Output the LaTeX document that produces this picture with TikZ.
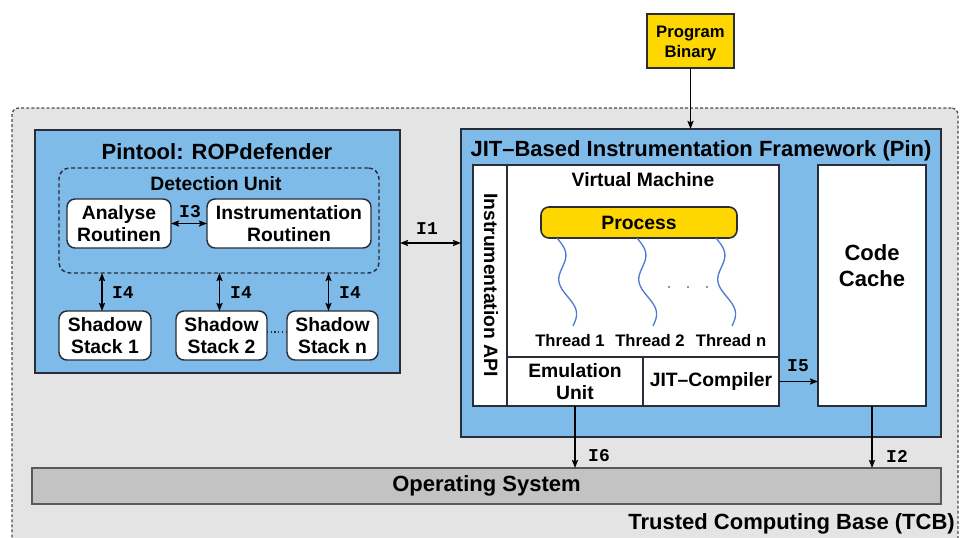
\documentclass[tikz,border=0pt]{standalone}
\usepackage{fontspec}
\setmainfont{Liberation Sans}
\setmonofont{Liberation Mono}
\usetikzlibrary{arrows.meta,fit}
\definecolor{pblue}{RGB}{127,187,233}
\definecolor{tcbgray}{RGB}{228,228,228}
\definecolor{osgray}{RGB}{195,195,195}
\definecolor{pyellow}{RGB}{255,215,0}
\definecolor{edge}{RGB}{40,45,55}
\definecolor{thread}{RGB}{80,125,205}
\tikzset{
  fitbox/.style={inner sep=0pt, outer sep=0pt},
  bluebox/.style={fitbox, draw=edge, line width=1.4pt, fill=pblue},
  whitebox/.style={fitbox, draw=edge, line width=1.1pt, fill=white},
  roundbox/.style={whitebox, rounded corners=6pt},
  txt/.style={inner sep=0pt, align=center},
  ilabel/.style={font=\ttfamily\bfseries\fontsize{13.5}{14}\selectfont, inner sep=0pt},
  conn/.style={line width=1.2pt, draw=black},
  bi/.style={conn, {Stealth[length=6pt,width=4.5pt,inset=1pt]}-{Stealth[length=6pt,width=4.5pt,inset=1pt]}},
  uni/.style={conn, -{Stealth[length=6pt,width=4.5pt,inset=1pt]}},
  bigtxt/.style={txt, font=\bfseries\fontsize{16.5}{19.5}\selectfont},
  midtxt/.style={txt, font=\bfseries\fontsize{14.5}{16.5}\selectfont},
  smltxt/.style={txt, font=\bfseries\fontsize{12.5}{15}\selectfont},
  threadline/.style={draw=thread, line width=1pt},
}
\begin{document}
\begin{tikzpicture}[x=0.75pt,y=-0.75pt]
\useasboundingbox (0,0) rectangle (960,537);
% Trusted computing base
\node[fitbox, fit={(12,108) (958,548)}, fill=tcbgray, draw=black!70, line width=1pt,
  dash pattern=on 2.2pt off 1.6pt, rounded corners=5pt] (tcb) {};
\node[bigtxt, anchor=east] (tcbl) at (955,524) {Trusted Computing Base (TCB)};

% Program binary
\node[fitbox, fit={(647,14) (734,68)}, fill=pyellow, draw=edge, line width=1.2pt] (prog) {};
\node[smltxt] (progl) at ([yshift=-2]prog.center) {Program\\Binary};

% Pintool
\node[bluebox, fit={(35,130) (400,373)}] (pin) {};
\node[bigtxt] (pinl) at (217,152) {Pintool: ROPdefender};
\node[fitbox, fit={(59,168) (379,273)}, draw=edge, line width=1.1pt, dash pattern=on 3pt off 2pt, rounded corners=8pt] (det) {};
\node[midtxt] (detl) at (216,184) {Detection Unit};
\node[roundbox, fit={(67,199) (171,248)}] (ana) {};
\node[midtxt] (anal) at (ana.center) {Analyse\\Routinen};
\node[roundbox, fit={(207,199) (371,248)}] (ins) {};
\node[midtxt] (insl) at (ins.center) {Instrumentation\\Routinen};
\node[roundbox, fit={(59,311) (151,360)}] (ss1) {};
\node[midtxt] (ss1l) at (ss1.center) {Shadow\\Stack 1};
\node[roundbox, fit={(176,311) (267,360)}] (ss2) {};
\node[midtxt] (ss2l) at (ss2.center) {Shadow\\Stack 2};
\node[roundbox, fit={(287,311) (378,360)}] (ssn) {};
\node[midtxt] (ssnl) at (ssn.center) {Shadow\\Stack n};
\draw[edge, line width=0.8pt, dotted] (ss2.east |- 0,332) -- (ssn.west |- 0,332);

\draw[bi] (ana.east) -- (ins.west);
\node[ilabel] (i3) at (190,212) {I3};
\draw[bi] (det.south -| ss1.north) ++(-3,0) coordinate (d1) -- (ss1.north -| d1);
\draw[bi] (det.south -| ss2.north) ++(-2,0) coordinate (d2) -- (ss2.north -| d2);
\draw[bi] (det.south -| ssn.north) ++(-4,0) coordinate (d3) -- (ssn.north -| d3);
\node[ilabel] (i4a) at (123,293) {I4};
\node[ilabel] (i4b) at (241,293) {I4};
\node[ilabel] (i4c) at (350,293) {I4};

% JIT framework
\node[bluebox, fit={(461,129) (941,437)}] (jit) {};
\node[bigtxt] (jitl) at (701,151) {JIT–Based Instrumentation Framework (Pin)};
\node[whitebox, fit={(473,165) (507,406)}] (api) {};
\node[midtxt, rotate=-90] (apil) at (491,285) {Instrumentation API};
\node[whitebox, fit={(507,165) (779,357)}] (vm) {};
\node[midtxt] (vml) at (643,180) {Virtual Machine};
\node[whitebox, fit={(507,357) (643,406)}] (emu) {};
\node[midtxt] (emul) at (emu.center) {Emulation\\Unit};
\node[whitebox, fit={(643,357) (779,406)}] (jitc) {};
\node[midtxt] (jitcl) at (jitc.center) {JIT–Compiler};
\node[whitebox, fit={(818,165) (926,406)}] (cache) {};
\node[bigtxt] (cachel) at (872,266) {Code\\Cache};
\node[fitbox, fit={(541,207) (737,238)}, fill=pyellow, draw=edge, line width=1.2pt, rounded corners=6pt] (proc) {};
\node[midtxt] (procl) at (proc.center) {Process};

% threads
\draw[threadline] plot[domain=0:1, samples=60, variable=\t] ({557+16*\t+6*sin(540*\t)}, {238+88*\t});
\draw[threadline] plot[domain=0:1, samples=60, variable=\t] ({637+16*\t+6*sin(540*\t)}, {238+88*\t});
\draw[threadline] plot[domain=0:1, samples=60, variable=\t] ({716+16*\t+6*sin(540*\t)}, {238+88*\t});
\node[smltxt] (t1) at (570,341) {Thread 1};
\node[smltxt] (t2) at (650,341) {Thread 2};
\node[smltxt] (tn) at (731,341) {Thread n};
\foreach \px in {669,688,707} \fill[black!55] (\px,287) circle (0.9pt);

% Operating system
\node[fitbox, fit={(32,468) (941,504)}, fill=osgray, draw=black!65, line width=1.1pt] (os) {};
\node[bigtxt] (osl) at (os.center) {Operating System};

% connectors
\coordinate (iy) at (0,243);
\draw[bi] (pin.east |- iy) -- (jit.west |- iy);
\node[ilabel] (i1) at (427,229) {I1};
\draw[uni] (prog.south) -- (prog.south |- jit.north);
\draw[uni] (jitc.east) -- (cache.west |- jitc.east);
\node[ilabel] (i5) at (798,366) {I5};
\draw[uni] (emu.south) -- (emu.south |- os.north);
\node[ilabel] (i6) at (599,456) {I6};
\draw[uni] (cache.south) -- (cache.south |- os.north);
\node[ilabel] (i2) at (897,456) {I2};
\end{tikzpicture}
\end{document}
